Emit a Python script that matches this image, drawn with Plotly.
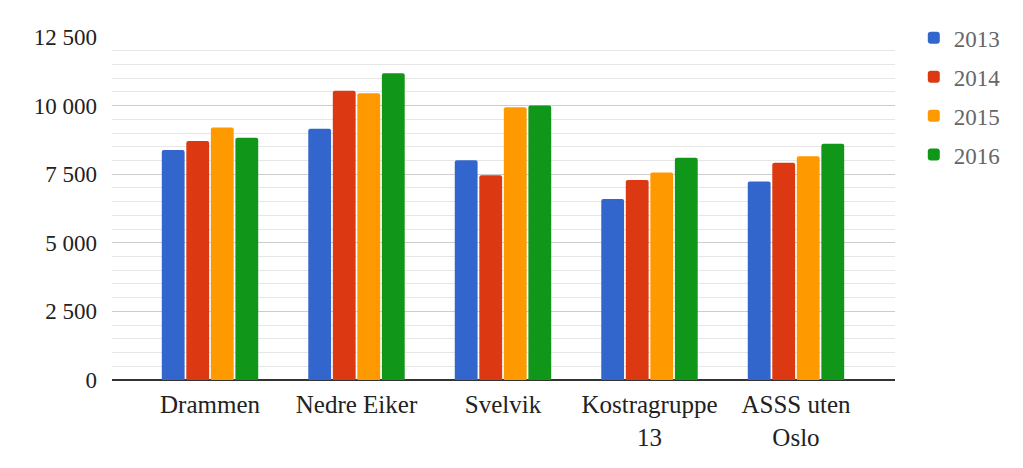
import plotly.graph_objects as go

categories = ["Drammen", "Nedre Eiker", "Svelvik", "Kostragruppe<br>13", "ASSS uten<br>Oslo"]
years = ["2013", "2014", "2015", "2016"]
v2013 = [8380, 9160, 8010, 6600, 7230]
v2014 = [8710, 10540, 7460, 7290, 7920]
v2015 = [9200, 10450, 9940, 7560, 8150]
v2016 = [8830, 11180, 10000, 8100, 8610]
series = [v2013, v2014, v2015, v2016]
colors = ["#3366cc", "#dc3912", "#ff9900", "#109618"]

fig = go.Figure()
for y, vals, c in zip(years, series, colors):
    fig.add_trace(go.Bar(
        name=y, x=categories, y=vals, marker_color=c,
        marker_line_width=0, legendgroup=y,
    ))

font_family = "Liberation Serif, DejaVu Serif, serif"
fig.update_layout(
    width=1023, height=468,
    margin=dict(l=112, r=128, t=37, b=88),
    paper_bgcolor="white", plot_bgcolor="white",
    barmode="group", bargap=0.33, bargroupgap=0.07,
    barcornerradius=2,
    separators=", ",
    font=dict(family=font_family, size=22, color="#222222"),
    legend=dict(
        x=1.024, y=1.06, xanchor="left", yanchor="top",
        font=dict(size=23, color="#666666", family=font_family),
        tracegroupgap=6, itemwidth=30,
    ),
    xaxis=dict(
        range=[-0.669, 4.676], showgrid=False, showline=False,
        tickfont=dict(size=25, color="#222222"), ticks="",
        ticklabelstandoff=7,
    ),
    yaxis=dict(
        range=[0, 12500], dtick=2500, tickformat=",d",
        showgrid=True, gridcolor="#cccccc", gridwidth=1,
        zeroline=True, zerolinecolor="#333333", zerolinewidth=1.5,
        tickfont=dict(size=23, color="#222222"), ticks="",
        ticklabelstandoff=14,
        minor=dict(dtick=500, showgrid=True, gridcolor="#e6e6e6", gridwidth=1),
    ),
)

fig.write_html("out.html")
